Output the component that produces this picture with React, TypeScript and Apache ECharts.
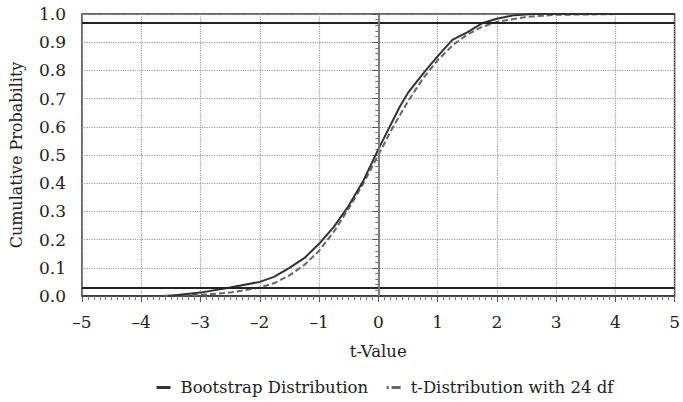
import React, { useEffect, useRef } from "react";
import * as echarts from "echarts";

const bootX = [-3.55, -3.0, -2.5, -2.0, -1.76, -1.5, -1.25, -1.0, -0.75, -0.5, -0.25, 0.0, 0.36, 0.5, 0.8, 1.0, 1.25, 1.5, 1.75, 2.0, 2.3, 2.6, 5.0];
const bootY = [0.0, 0.012, 0.03, 0.05, 0.068, 0.1, 0.134, 0.185, 0.245, 0.32, 0.41, 0.52, 0.67, 0.72, 0.8, 0.85, 0.908, 0.935, 0.967, 0.983, 0.996, 1.0, 1.0];
const tX = [-3.6, -3.0, -2.5, -2.0, -1.75, -1.5, -1.25, -1.0, -0.75, -0.5, -0.25, 0.0, 0.25, 0.5, 0.75, 1.0, 1.25, 1.5, 1.75, 2.0, 2.5, 3.0, 4.0, 5.0];
const tY = [0.001, 0.004, 0.012, 0.03, 0.046, 0.073, 0.11, 0.16, 0.228, 0.31, 0.4, 0.5, 0.6, 0.69, 0.77, 0.836, 0.888, 0.927, 0.954, 0.972, 0.99, 0.997, 0.9997, 1.0];
const refLines = [0.025, 0.975];
const seriesNames = ["Bootstrap Distribution", "t-Distribution with 24 df"];

const FONT = "DejaVu Serif";
const FS = 17;

export default function App() {
  const ref = useRef<HTMLDivElement>(null);
  useEffect(() => {
    if (!ref.current) return;
    const chart = echarts.init(ref.current, null, { renderer: "svg" });
    chart.setOption({
      animation: false,
      textStyle: { fontFamily: FONT },
      grid: { left: 79, right: 5, top: 14, bottom: 106, show: true, borderColor: "#333", borderWidth: 1.5 },
      legend: {
        left: 150,
        top: 374,
        itemWidth: 14,
        itemHeight: 10,
        itemGap: 17,
        textStyle: { fontFamily: FONT, fontSize: 16.5, color: "#222", padding: [0, 0, 0, 5] },
        data: [
          { name: seriesNames[0], itemStyle: { opacity: 0 }, lineStyle: { width: 3, color: "#333", type: "solid" } },
          { name: seriesNames[1], itemStyle: { opacity: 0 }, lineStyle: { width: 3, color: "#666", type: [2, 3, 9, 20] } },
        ],
      },
      xAxis: {
        type: "value",
        min: -5,
        max: 5,
        interval: 1,
        name: "t-Value",
        nameLocation: "middle",
        nameGap: 47,
        nameTextStyle: { fontFamily: FONT, fontSize: 16.5, color: "#222" },
        axisLine: { onZero: false, lineStyle: { color: "#333", width: 1.5 } },
        axisTick: { show: true, length: 6, lineStyle: { color: "#555" } },
        minorTick: { show: true, splitNumber: 10, length: 4, lineStyle: { color: "#777" } },
        axisLabel: {
          fontFamily: FONT,
          fontSize: FS,
          color: "#222",
          margin: 17,
          formatter: (v: number) => String(v).replace("-", "\u2013"),
        },
        splitLine: { show: true, lineStyle: { type: "dotted", color: "#999", width: 1.2 } },
      },
      yAxis: {
        type: "value",
        min: 0,
        max: 1,
        interval: 0.1,
        name: "Cumulative Probability",
        nameLocation: "middle",
        nameGap: 58,
        nameTextStyle: { fontFamily: FONT, fontSize: 16, color: "#222" },
        axisLine: { show: true, lineStyle: { color: "#333", width: 1.5 } },
        axisTick: { show: true, length: 6, lineStyle: { color: "#555" } },
        minorTick: { show: true, splitNumber: 5, length: 3, lineStyle: { color: "#777" } },
        axisLabel: {
          fontFamily: FONT,
          fontSize: FS,
          color: "#222",
          margin: 16,
          formatter: (v: number) => v.toFixed(1),
        },
        splitLine: { show: true, lineStyle: { type: "dotted", color: "#999", width: 1.2 } },
      },
      series: [
        {
          name: seriesNames[0],
          type: "line",
          symbol: "none",
          data: bootX.map((x, i) => [x, bootY[i]]),
          lineStyle: { color: "#333", width: 2 },
          itemStyle: { color: "#333" },
          z: 3,
          markLine: {
            silent: true,
            symbol: "none",
            label: { show: false },
            data: [
              ...refLines.map((y) => ({ yAxis: y, lineStyle: { color: "#222", width: 1.8, type: "solid" } })),
              { xAxis: 0, lineStyle: { color: "#888", width: 1.5, type: "solid" } },
            ],
          },
        },
        {
          name: seriesNames[1],
          type: "line",
          symbol: "none",
          data: tX.map((x, i) => [x, tY[i]]),
          lineStyle: { color: "#666", width: 2, type: [6, 3] },
          itemStyle: { color: "#666" },
          z: 2,
        },
      ],
    });
    return () => chart.dispose();
  }, []);
  return <div ref={ref} style={{ width: 683, height: 402, position: "absolute", left: 0, top: 0 }} />;
}
